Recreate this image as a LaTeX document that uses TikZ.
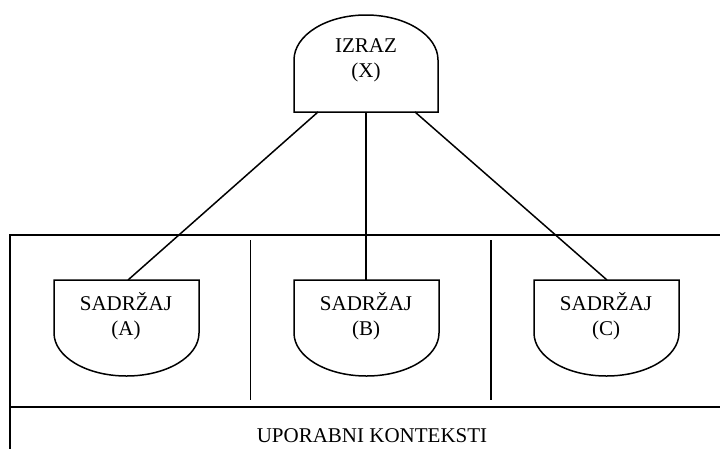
\documentclass[tikz,border=0pt]{standalone}
\usepackage{fontspec}
\setmainfont{Liberation Serif}
\begin{document}
\begin{tikzpicture}[x=1pt,y=-1pt,line width=1.5pt,line join=miter,
  lbl/.style={font=\fontsize{21}{25}\selectfont,inner sep=0pt,anchor=base},
  shp/.style={draw=black,line width=1.5pt}]
\clip (0,0) rectangle (720,448);
% expression shape (top)
\draw[shp] (294,112) -- (294,60) arc[start angle=180,end angle=360,x radius=72,y radius=45] -- (438,112) -- cycle;
\node[lbl] (izraz) at (366,52) {IZRAZ};
\node[lbl] (izrazx) at (366,77) {(X)};
\coordinate (xl) at (318,112);
\coordinate (xm) at (366,112);
\coordinate (xr) at (415,112);
% content shapes
\foreach \x/\n/\t in {54/a/A,294/b/B,534/c/C}{
  \draw[shp] (\x,280) -- (\x+145,280) -- (\x+145,333) arc[start angle=0,end angle=180,x radius=72.5,y radius=43] -- cycle;
  \node[lbl] (s\n) at (\x+72,310) {SADRŽAJ};
  \node[lbl] (l\n) at (\x+72,335) {(\t)};
}
\coordinate (ta) at (128,280);
\coordinate (tb) at (366,280);
\coordinate (tc) at (607,280);
% connectors
\draw (xl) -- (ta);
\draw (xm) -- (tb);
\draw (xr) -- (tc);
% context frame
\coordinate (f1) at (730,235);
\coordinate (f2) at (10,235);
\coordinate (f3) at (10,460);
\coordinate (f4) at (730,407);
\coordinate (f5) at (10,407);
\draw (f1) -- (f2) -- (f3);
\draw (f5) -- (f4);
\coordinate (d1t) at (250.5,240);
\coordinate (d1b) at (250.5,400);
\coordinate (d2t) at (491,240);
\coordinate (d2b) at (491,400);
\draw (d1t) -- (d1b);
\draw (d2t) -- (d2b);
\node[lbl] (ctx) at (372,442) {UPORABNI KONTEKSTI};
\end{tikzpicture}
\end{document}
